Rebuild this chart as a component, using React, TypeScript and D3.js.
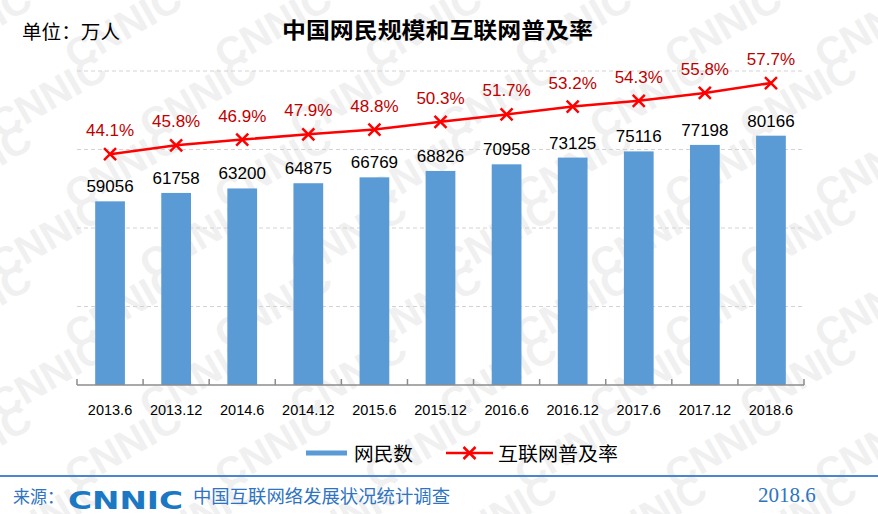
import { useEffect, useRef } from 'react';
import * as d3 from 'd3';

const CATEGORIES = [
  '2013.6', '2013.12', '2014.6', '2014.12', '2015.6', '2015.12',
  '2016.6', '2016.12', '2017.6', '2017.12', '2018.6',
];
const USERS = [59056, 61758, 63200, 64875, 66769, 68826, 70958, 73125, 75116, 77198, 80166];
const RATES = [44.1, 45.8, 46.9, 47.9, 48.8, 50.3, 51.7, 53.2, 54.3, 55.8, 57.7];
const RATE_TICKS = [0, 15, 30, 45, 60];

const W = 878;
const H = 514;
const SANS = '"Liberation Sans", Arial, sans-serif';
const CJK = '"Noto Sans CJK SC", sans-serif';
const BAR = '#5B9BD5';
const RED = '#FF0000';
const FOOT_BLUE = '#2E74C0';

export default function App() {
  const svgRef = useRef<SVGSVGElement>(null);

  useEffect(() => {
    document.body.style.margin = '0';
    if (!svgRef.current) return;
    const svg = d3.select(svgRef.current);
    svg.selectAll('*').remove();

    svg.append('rect').attr('width', W).attr('height', H).attr('fill', '#fff');

    // watermark
    const wm = svg.append('g').attr('fill', '#f0f0f0').attr('font-family', SANS)
      .attr('font-weight', 900).attr('font-size', 40);
    for (let r = -2; r < 9; r++) {
      for (let c = -1; c < 8; c++) {
        const px = c * 150 + (r % 2) * 75;
        const py = r * 70;
        wm.append('text')
          .attr('transform', `translate(${px},${py}) rotate(-30)`)
          .text('CNNIC');
      }
    }

    const x = d3.scaleBand<string>().domain(CATEGORIES).range([77, 804]).padding(0);
    const yU = d3.scaleLinear().domain([0, 100000]).range([385, 74]);
    const yR = d3.scaleLinear().domain([0, 60]).range([385, 71]);
    const bw = x.bandwidth() * 0.45;
    const cx = (i: number) => (x(CATEGORIES[i]) || 0) + x.bandwidth() / 2;

    // grid
    svg.append('g').selectAll('line')
      .data(RATE_TICKS.slice(1))
      .join('line')
      .attr('x1', 77).attr('x2', 805)
      .attr('y1', (d) => yR(d)).attr('y2', (d) => yR(d))
      .attr('stroke', '#d3d3d3').attr('stroke-width', 1)
      .attr('stroke-dasharray', '4,3');

    // bars
    svg.append('g').selectAll('rect')
      .data(USERS)
      .join('rect')
      .attr('x', (_, i) => cx(i) - bw / 2)
      .attr('y', (d) => yU(d))
      .attr('width', bw)
      .attr('height', (d) => yU(0) - yU(d))
      .attr('fill', BAR);

    // bar labels
    svg.append('g').selectAll('text')
      .data(USERS)
      .join('text')
      .attr('x', (_, i) => cx(i))
      .attr('y', (d) => yU(d) - 9)
      .attr('text-anchor', 'middle')
      .attr('font-family', SANS).attr('font-size', 17).attr('fill', '#000')
      .text((d) => String(d));

    // x axis
    const ax = svg.append('g').attr('transform', `translate(0,385)`);
    ax.append('line').attr('x1', 77).attr('x2', 804).attr('y1', 0).attr('y2', 0)
      .attr('stroke', '#8c8c8c').attr('stroke-width', 1.5);
    const bounds = CATEGORIES.map((c) => x(c) || 0).concat([x.range()[1]]);
    ax.selectAll('line.tk').data(bounds).join('line').attr('class', 'tk')
      .attr('x1', (d) => d).attr('x2', (d) => d).attr('y1', 0).attr('y2', -6)
      .attr('stroke', '#8c8c8c').attr('stroke-width', 1.5);
    svg.append('g').selectAll('text')
      .data(CATEGORIES)
      .join('text')
      .attr('x', (_, i) => cx(i))
      .attr('y', 415)
      .attr('text-anchor', 'middle')
      .attr('font-family', SANS).attr('font-size', 14.5).attr('fill', '#000')
      .text((d) => d);

    // rate line
    const line = d3.line<number>()
      .x((_, i) => cx(i))
      .y((d) => yR(d));
    svg.append('path').datum(RATES).attr('d', line)
      .attr('fill', 'none').attr('stroke', RED).attr('stroke-width', 2.5);

    const cross = (g: d3.Selection<SVGGElement, unknown, null, undefined>, px: number, py: number) => {
      const s = 6;
      g.append('path')
        .attr('d', `M${px - s},${py - s}L${px + s},${py + s}M${px - s},${py + s}L${px + s},${py - s}`)
        .attr('stroke', RED).attr('stroke-width', 2.5).attr('fill', 'none');
    };
    const mk = svg.append('g');
    RATES.forEach((d, i) => cross(mk, cx(i), yR(d)));

    svg.append('g').selectAll('text')
      .data(RATES)
      .join('text')
      .attr('x', (_, i) => cx(i))
      .attr('y', (d) => yR(d) - 18)
      .attr('text-anchor', 'middle')
      .attr('font-family', SANS).attr('font-size', 17).attr('fill', '#C00000')
      .text((d) => `${d.toFixed(1)}%`);

    // titles
    svg.append('text').attr('x', 22).attr('y', 39)
      .attr('font-family', CJK).attr('font-size', 19).attr('fill', '#000')
      .attr('textLength', 98).attr('lengthAdjust', 'spacingAndGlyphs')
      .text('单位：万人');
    svg.append('text').attr('x', 282).attr('y', 38)
      .attr('font-family', CJK).attr('font-size', 22).attr('font-weight', 700).attr('fill', '#000')
      .attr('textLength', 311).attr('lengthAdjust', 'spacingAndGlyphs')
      .text('中国网民规模和互联网普及率');

    // legend
    const lg = svg.append('g');
    lg.append('rect').attr('x', 306).attr('y', 450.5).attr('width', 41).attr('height', 5).attr('fill', BAR);
    lg.append('text').attr('x', 354).attr('y', 461)
      .attr('font-family', CJK).attr('font-size', 19).attr('fill', '#000')
      .attr('textLength', 59).attr('lengthAdjust', 'spacingAndGlyphs').text('网民数');
    lg.append('line').attr('x1', 446).attr('x2', 493).attr('y1', 453).attr('y2', 453)
      .attr('stroke', RED).attr('stroke-width', 2.5);
    cross(lg, 469.5, 453);
    lg.append('text').attr('x', 498).attr('y', 461)
      .attr('font-family', CJK).attr('font-size', 19).attr('fill', '#000')
      .attr('textLength', 120).attr('lengthAdjust', 'spacingAndGlyphs').text('互联网普及率');

    // footer
    svg.append('line').attr('x1', 0).attr('x2', W).attr('y1', 476).attr('y2', 476)
      .attr('stroke', '#4A86D0').attr('stroke-width', 2);
    svg.append('text').attr('x', 13).attr('y', 503)
      .attr('font-family', CJK).attr('font-size', 17).attr('fill', FOOT_BLUE)
      .text('来源：');
    svg.append('text').attr('x', 68).attr('y', 509)
      .attr('font-family', '"DejaVu Sans", sans-serif').attr('font-weight', 900)
      .attr('font-size', 25).attr('fill', '#1B78C2')
      .attr('textLength', 115).attr('lengthAdjust', 'spacingAndGlyphs')
      .text('CNNIC');
    svg.append('text').attr('x', 193).attr('y', 503)
      .attr('font-family', CJK).attr('font-size', 18).attr('fill', FOOT_BLUE)
      .attr('textLength', 257).attr('lengthAdjust', 'spacingAndGlyphs')
      .text('中国互联网络发展状况统计调查');
    svg.append('text').attr('x', 758).attr('y', 502)
      .attr('font-family', '"Liberation Serif", serif').attr('font-size', 21).attr('fill', FOOT_BLUE)
      .text('2018.6');
  }, []);

  return <svg ref={svgRef} width={W} height={H} style={{ display: 'block' }} />;
}
